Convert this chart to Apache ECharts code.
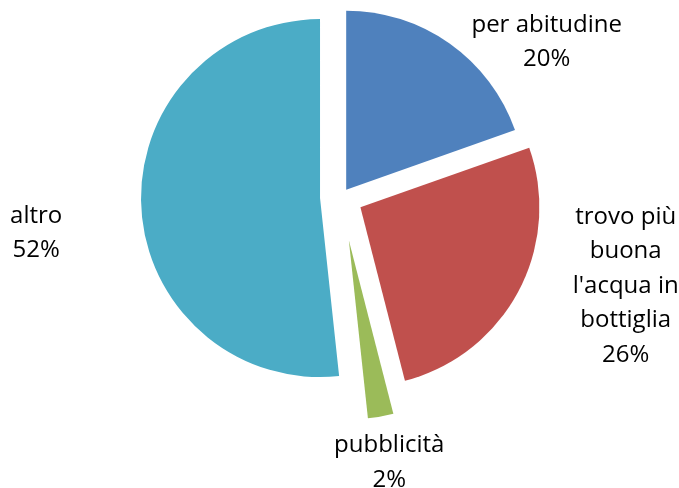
<!DOCTYPE html>
<html><head><meta charset="utf-8">
<script src="https://cdn.jsdelivr.net/npm/echarts@6/dist/echarts.min.js"></script>
<style>html,body{margin:0;padding:0;background:#fff}#main{width:679px;height:488px}</style>
</head><body><div id="main"></div>
<script>
const categories = ["per abitudine", "trovo più buona l'acqua in bottiglia", "pubblicità", "altro"];
const labelTextLines = [["per abitudine"], ["trovo più", "buona", "l'acqua in", "bottiglia"], ["pubblicità"], ["altro"]];
const values = [19.6, 26.4, 2.3, 51.7];
const colors = ['#4F81BD', '#C0504D', '#9BBB59', '#4BACC6'];

const pieCenter = [341, 197];
const pieRadius = 179;
const explode = [9, 22, 44, 21];
// per slice label placement: [labelLine length, length2, extra dy]
const labelPlace = [[1.5, 16, 0], [-12, 60, 0], [47, -60, 0], [10, 64, 25]];

const total = values.reduce((a, b) => a + b, 0);
let cum = 0;
const series = values.map((v, i) => {
  const mid = (cum + v / 2) / total * 2 * Math.PI;
  cum += v;
  const cx = pieCenter[0] + explode[i] * Math.sin(mid);
  const cy = pieCenter[1] - explode[i] * Math.cos(mid);
  return {
    type: 'pie',
    center: [cx, cy],
    radius: pieRadius,
    startAngle: 90,
    clockwise: true,
    avoidLabelOverlap: false,
    silent: true,
    percentPrecision: 0,
    itemStyle: { borderWidth: 0 },
    label: {
      show: true,
      position: 'outside',
      color: '#000',
      formatter: function (p) {
        return labelTextLines[p.dataIndex].map(s => '{c|' + s + '}').join('\n') + '\n{c|' + p.percent + '%}';
      },
      rich: {
        c: { align: 'center', fontFamily: 'Open Sans', fontSize: 24, lineHeight: 34.5, color: '#000' }
      }
    },
    labelLine: { show: false, length: labelPlace[i][0], length2: labelPlace[i][1] },
    labelLayout: { dy: labelPlace[i][2] },
    emphasis: { disabled: true },
    data: values.map((val, j) => ({
      name: categories[j],
      value: val,
      itemStyle: { color: j === i ? colors[j] : 'rgba(0,0,0,0)' },
      label: { show: j === i }
    }))
  };
});

const chart = echarts.init(document.getElementById('main'));
chart.setOption({ animation: false, backgroundColor: '#fff', series: series });
</script>
</body></html>
